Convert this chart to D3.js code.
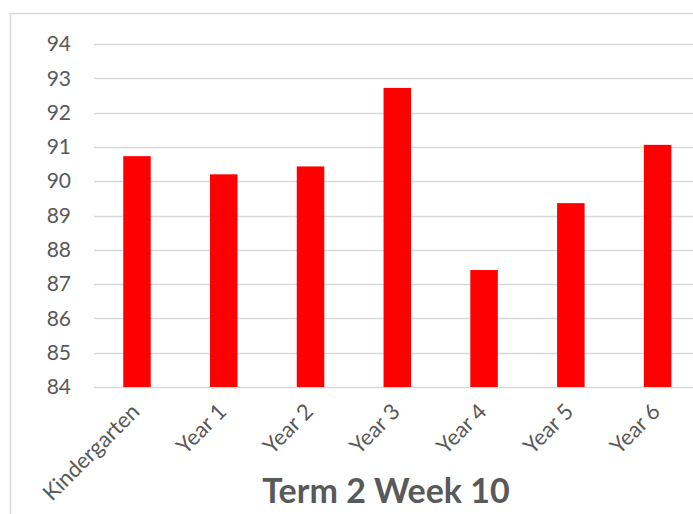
<!DOCTYPE html>
<html>
<head>
<meta charset="utf-8">
<script src="https://cdn.jsdelivr.net/npm/d3@7"></script>
<style>
  body { margin: 0; background: #fff; }
  text { font-family: Lato, "Open Sans", sans-serif; fill: #595959; }
</style>
</head>
<body>
<div id="chart"></div>
<script>
// data
var categories = ["Kindergarten", "Year 1", "Year 2", "Year 3", "Year 4", "Year 5", "Year 6"];
var values = [90.73, 90.2, 90.43, 92.72, 87.41, 89.36, 91.06];
var yTicks = [84, 85, 86, 87, 88, 89, 90, 91, 92, 93, 94];
var title = "Term 2 Week 10";

var svgWidth = 693;
var svgHeight = 514;

var svg = d3.select("#chart")
  .append("svg")
  .attr("width", svgWidth)
  .attr("height", svgHeight);

// chart border (left and top visible)
svg.append("path")
  .attr("d", "M10.5,514 L10.5,13.5 L693,13.5")
  .attr("fill", "none")
  .attr("stroke", "#d9d9d9")
  .attr("stroke-width", 1.5);

var yScale = d3.scaleLinear()
  .domain([84, 94])
  .range([387, 44]);

var xScale = d3.scaleBand()
  .domain(categories)
  .range([93.6, 701])
  .paddingInner(0.683)
  .paddingOuter(0.3415);

// gridlines
svg.append("g")
  .selectAll("line")
  .data(yTicks)
  .enter()
  .append("line")
  .attr("x1", 94)
  .attr("x2", svgWidth)
  .attr("y1", d => Math.round(yScale(d)) + 0.5)
  .attr("y2", d => Math.round(yScale(d)) + 0.5)
  .attr("stroke", "#d9d9d9")
  .attr("stroke-width", 1.5);

// y axis labels
var yAxis = d3.axisLeft(yScale).tickValues(yTicks).tickSize(0).tickPadding(0);
var yG = svg.append("g")
  .attr("transform", "translate(71, 0)")
  .call(yAxis);
yG.select(".domain").remove();
yG.selectAll("text")
  .attr("font-size", 21)
  .attr("fill", "#595959")
  .style("font-family", "Lato, 'Open Sans', sans-serif");

// bars
svg.append("g")
  .selectAll("rect")
  .data(values)
  .enter()
  .append("rect")
  .attr("x", (d, i) => xScale(categories[i]))
  .attr("width", xScale.bandwidth())
  .attr("y", d => yScale(d))
  .attr("height", d => yScale(84) - yScale(d))
  .attr("fill", "#ff0000");

// category labels
svg.append("g")
  .selectAll("text")
  .data(categories)
  .enter()
  .append("text")
  .attr("transform", d => `translate(${xScale(d) + xScale.bandwidth() / 2 + 4}, 413) rotate(-45)`)
  .attr("text-anchor", "end")
  .attr("font-size", 22)
  .text(d => d);

// title
svg.append("text")
  .attr("x", 386)
  .attr("y", 503)
  .attr("text-anchor", "middle")
  .attr("font-size", 34)
  .attr("font-weight", "bold")
  .text(title);
</script>
</body>
</html>
